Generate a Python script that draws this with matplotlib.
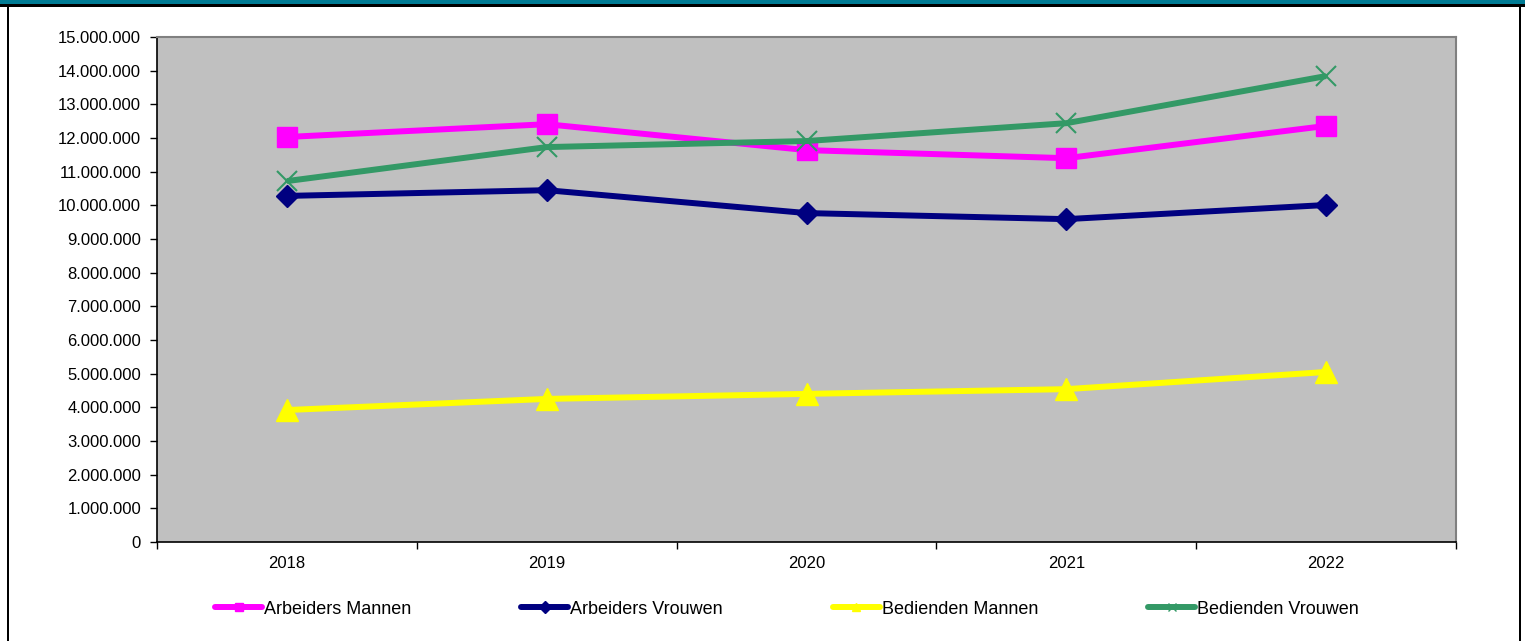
import matplotlib
matplotlib.use("Agg")
import matplotlib.pyplot as plt
from matplotlib.lines import Line2D
from matplotlib.patches import Rectangle
from matplotlib.ticker import FuncFormatter, FixedLocator, MultipleLocator

plt.rcParams['font.family'] = ['Liberation Sans', 'DejaVu Sans']

years = ["2018", "2019", "2020", "2021", "2022"]
arbeiders_mannen = [12030000, 12410000, 11640000, 11400000, 12360000]
arbeiders_vrouwen = [10280000, 10450000, 9770000, 9590000, 10010000]
bedienden_mannen = [3920000, 4250000, 4400000, 4540000, 5050000]
bedienden_vrouwen = [10720000, 11730000, 11910000, 12440000, 13840000]

series = [
    ("Arbeiders Mannen", arbeiders_mannen, "#FF00FF", "s", 14, {}),
    ("Arbeiders Vrouwen", arbeiders_vrouwen, "#000080", "D", 11.5, {}),
    ("Bedienden Mannen", bedienden_mannen, "#FFFF00", "^", 16, {}),
    ("Bedienden Vrouwen", bedienden_vrouwen, "#339966", "x", 14, {"markeredgewidth": 1.5}),
]

W, H = 1525, 641
fig = plt.figure(figsize=(W / 100, H / 100), dpi=100)
fig.patch.set_facecolor("white")

# outer frame
fig.add_artist(Rectangle((0, 1 - 4.5 / H), 1, 4.5 / H, transform=fig.transFigure,
                         facecolor="#007B94", edgecolor="none"))
fig.add_artist(Rectangle((0, 1 - 7 / H), 1, 2.5 / H, transform=fig.transFigure,
                         facecolor="black", edgecolor="none"))
fig.add_artist(Rectangle((7 / W, 0), 2 / W, 1 - 5 / H, transform=fig.transFigure,
                         facecolor="black", edgecolor="none"))
fig.add_artist(Rectangle((1519 / W, 0), 2 / W, 1 - 5 / H, transform=fig.transFigure,
                         facecolor="black", edgecolor="none"))

left, right, bottom, top = 157 / W, 1456 / W, 1 - 542 / H, 1 - 37 / H
ax = fig.add_axes([left, bottom, right - left, top - bottom])
ax.set_facecolor("#C0C0C0")

x = list(range(len(years)))
for name, vals, color, marker, ms, extra in series:
    ax.plot(x, vals, color=color, lw=4.3, marker=marker, markersize=ms,
            markerfacecolor=color, markeredgecolor=color, solid_joinstyle="round",
            solid_capstyle="butt", label=name, **extra)

ax.set_xlim(-0.5, len(years) - 0.5)
ax.set_ylim(0, 15000000)
ax.yaxis.set_major_locator(MultipleLocator(1000000))
ax.yaxis.set_major_formatter(FuncFormatter(lambda v, p: f"{int(v):,}".replace(",", ".")))

ax.xaxis.set_major_locator(FixedLocator([i - 0.5 for i in range(len(years) + 1)]))
ax.xaxis.set_major_formatter(FuncFormatter(lambda v, p: ""))
ax.set_xticks(x, minor=True)
ax.set_xticklabels(years, minor=True)
ax.tick_params(axis="x", which="minor", length=0, pad=10, labelsize=12)
ax.tick_params(axis="x", which="major", length=5, width=1, direction="out", color="black")
ax.tick_params(axis="y", length=5, width=1, direction="out", labelsize=12, pad=6.5)

for s in ("left", "bottom"):
    ax.spines[s].set_color("black")
    ax.spines[s].set_linewidth(1.2)
for s in ("top", "right"):
    ax.spines[s].set_color("#808080")
    ax.spines[s].set_linewidth(1.5)

handles = [Line2D([], [], color=c, lw=4.3, marker=m, markersize=6,
                  markerfacecolor=c, markeredgecolor=c, solid_capstyle="round")
           for _, _, c, m, _, _ in series]
labels = [s[0] for s in series]
fig.legend(handles, labels, loc="center", bbox_to_anchor=(787 / W, 1 - 609 / H),
           ncol=4, frameon=False, fontsize=13, handlelength=2.6, handletextpad=0.1,
           columnspacing=6.1)

fig.savefig("out.png", dpi=100)
